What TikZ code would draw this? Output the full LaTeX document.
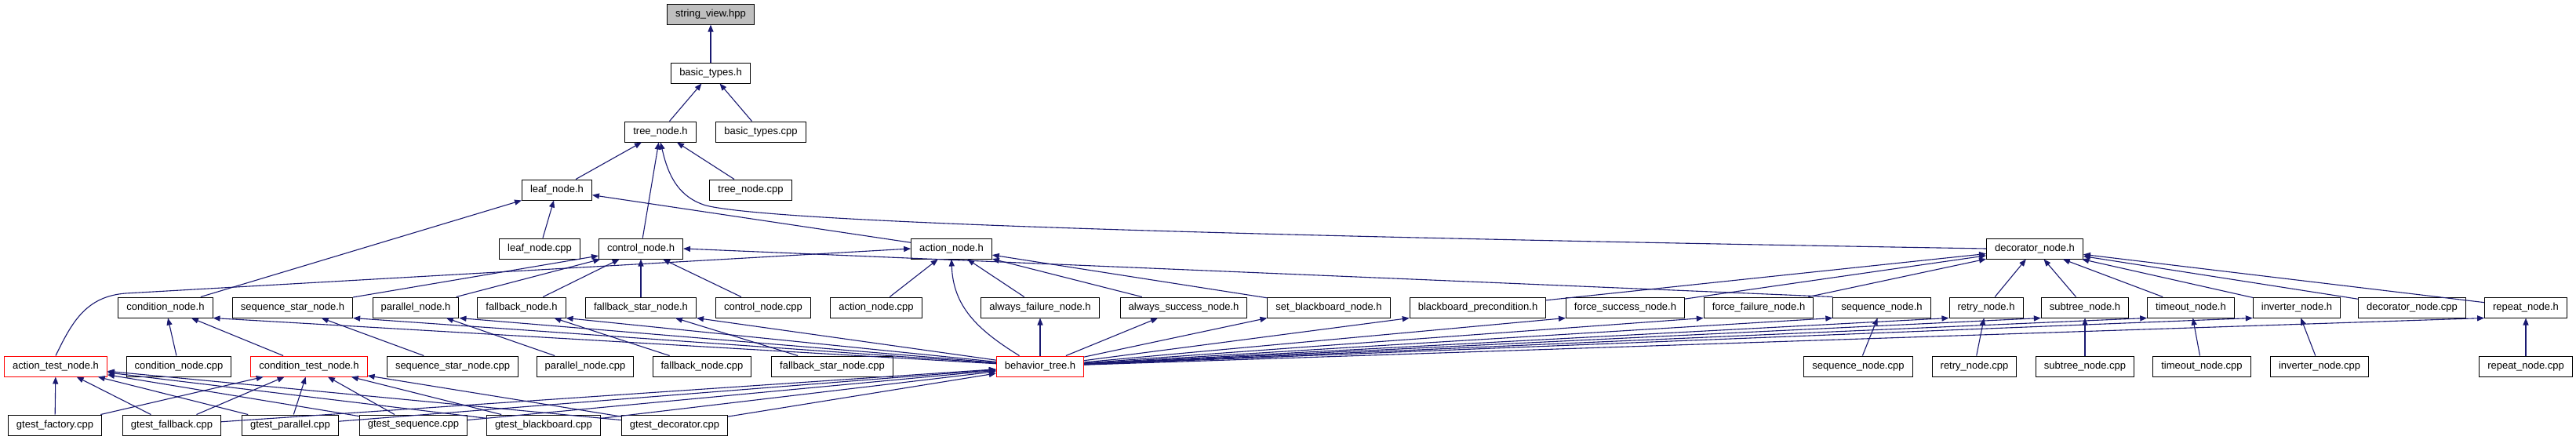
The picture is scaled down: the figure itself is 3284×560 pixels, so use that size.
\documentclass[tikz,border=0pt]{standalone}
\usepackage{fontspec}
\setmainfont{Liberation Sans}
\usetikzlibrary{arrows.meta}
\definecolor{edgeblue}{HTML}{191970}
\tikzset{
  file/.style={draw=black, line width=1pt, fill=white, minimum height=26pt,
    inner xsep=10.5pt, inner ysep=2pt, font=\fontsize{13}{15}\selectfont},
  trunc/.style={file, draw=red},
  incl/.style={draw=edgeblue, line width=1.1pt, -{Triangle[length=9pt,width=7pt]}},
}
\begin{document}
\begin{tikzpicture}[x=1pt, y=-1pt]
  \useasboundingbox (0,0) rectangle (3284,560);
  % top of the graph
  \node[file, fill=black!25] (strview) at (906,18) {string\_view.hpp};
  \node[file] (basictypes) at (906,93) {basic\_types.h};
  \node[file] (treenode) at (842,168) {tree\_node.h};
  \node[file] (basiccpp) at (970,168) {basic\_types.cpp};
  \node[file] (leafnode) at (710,242) {leaf\_node.h};
  \node[file] (treecpp) at (957,242) {tree\_node.cpp};
  \node[file] (leafcpp) at (688,317) {leaf\_node.cpp};
  \node[file] (controlnode) at (817,317) {control\_node.h};
  \node[file] (actionnode) at (1213,317) {action\_node.h};
  \node[file] (decornode) at (2594,317) {decorator\_node.h};
  % headers
  \node[file] (condnode) at (211,392) {condition\_node.h};
  \node[file] (seqstar) at (373,392) {sequence\_star\_node.h};
  \node[file] (parallel) at (530,392) {parallel\_node.h};
  \node[file] (fallback) at (665,392) {fallback\_node.h};
  \node[file] (fbstar) at (817,392) {fallback\_star\_node.h};
  \node[file] (controlcpp) at (973,392) {control\_node.cpp};
  \node[file] (actioncpp) at (1117,392) {action\_node.cpp};
  \node[file] (afail) at (1326,392) {always\_failure\_node.h};
  \node[file] (asucc) at (1509,392) {always\_success\_node.h};
  \node[file] (setbb) at (1694,392) {set\_blackboard\_node.h};
  \node[file] (bbpre) at (1884,392) {blackboard\_precondition.h};
  \node[file] (fsucc) at (2072,392) {force\_success\_node.h};
  \node[file] (ffail) at (2242,392) {force\_failure\_node.h};
  \node[file] (seqnode) at (2399,392) {sequence\_node.h};
  \node[file] (retry) at (2532,392) {retry\_node.h};
  \node[file] (subtree) at (2658,392) {subtree\_node.h};
  \node[file] (timeout) at (2793,392) {timeout\_node.h};
  \node[file] (inverter) at (2928,392) {inverter\_node.h};
  \node[file] (decorcpp) at (3075,392) {decorator\_node.cpp};
  \node[file] (repeat) at (3220,392) {repeat\_node.h};
  % sources
  \node[trunc] (atest) at (71,467) {action\_test\_node.h};
  \node[file] (condcpp) at (228,467) {condition\_node.cpp};
  \node[trunc] (ctest) at (394,467) {condition\_test\_node.h};
  \node[file] (seqstarcpp) at (577,467) {sequence\_star\_node.cpp};
  \node[file] (parallelcpp) at (746,467) {parallel\_node.cpp};
  \node[file] (fallbackcpp) at (895,467) {fallback\_node.cpp};
  \node[file] (fbstarcpp) at (1061,467) {fallback\_star\_node.cpp};
  \node[trunc] (bt) at (1326,467) {behavior\_tree.h};
  \node[file] (seqnodecpp) at (2369,467) {sequence\_node.cpp};
  \node[file] (retrycpp) at (2517,467) {retry\_node.cpp};
  \node[file] (subtreecpp) at (2658,467) {subtree\_node.cpp};
  \node[file] (timeoutcpp) at (2807,467) {timeout\_node.cpp};
  \node[file] (invertercpp) at (2957,467) {inverter\_node.cpp};
  \node[file] (repeatcpp) at (3220,467) {repeat\_node.cpp};
  % tests
  \node[file] (gfactory) at (70,542) {gtest\_factory.cpp};
  \node[file] (gfallback) at (219,542) {gtest\_fallback.cpp};
  \node[file] (gparallel) at (370,542) {gtest\_parallel.cpp};
  \node[file] (gsequence) at (527,542) {gtest\_sequence.cpp};
  \node[file] (gblackboard) at (693,542) {gtest\_blackboard.cpp};
  \node[file] (gdecorator) at (860,542) {gtest\_decorator.cpp};
  % includes
  \foreach \a/\b in {basictypes/strview, treenode/basictypes, basiccpp/basictypes,
      leafnode/treenode, controlnode/treenode, treecpp/treenode,
      condnode/leafnode, leafcpp/leafnode, actionnode/leafnode,
      seqstar/controlnode, parallel/controlnode, fallback/controlnode,
      fbstar/controlnode, controlcpp/controlnode,
      actioncpp/actionnode, afail/actionnode, asucc/actionnode, setbb/actionnode,
      bbpre/decornode, fsucc/decornode, ffail/decornode, retry/decornode,
      subtree/decornode, timeout/decornode, inverter/decornode,
      decorcpp/decornode, repeat/decornode,
      condcpp/condnode, ctest/condnode, seqstarcpp/seqstar, parallelcpp/parallel,
      fallbackcpp/fallback, fbstarcpp/fbstar, seqnodecpp/seqnode, retrycpp/retry,
      subtreecpp/subtree, timeoutcpp/timeout, invertercpp/inverter,
      repeatcpp/repeat, bt/afail, bt/asucc}
    \draw[incl] (\a) -- (\b);
  \foreach \b in {condnode, seqstar, parallel, fallback, fbstar}
    \draw[incl] (bt) -- (\b.south east);
  \foreach \b in {setbb, bbpre, fsucc, ffail, seqnode, retry, subtree, timeout,
      inverter, repeat}
    \draw[incl] (bt) -- (\b.south west);
  \foreach \a in {gfactory, gfallback, gparallel, gsequence, gblackboard, gdecorator} {
    \draw[incl] (\a) -- (atest);
    \draw[incl] (\a) -- (ctest);
  }
  \foreach \a in {gfallback, gparallel, gsequence, gblackboard, gdecorator}
    \draw[incl] (\a) -- (bt);
  \draw[incl] (seqnode.north west) -- (controlnode.east);
  \draw[incl] (decornode.west) .. controls (1500,300) and (980,282) .. (900,262)
    .. controls (860,250) and (850,215) .. (treenode.south);
  \draw[incl] (atest.north) .. controls (92,410) and (110,378) .. (160,374)
    -- (actionnode.west);
  \draw[incl] (bt.153) .. controls (1245,420) and (1215,390) .. (actionnode.south);
\end{tikzpicture}
\end{document}
